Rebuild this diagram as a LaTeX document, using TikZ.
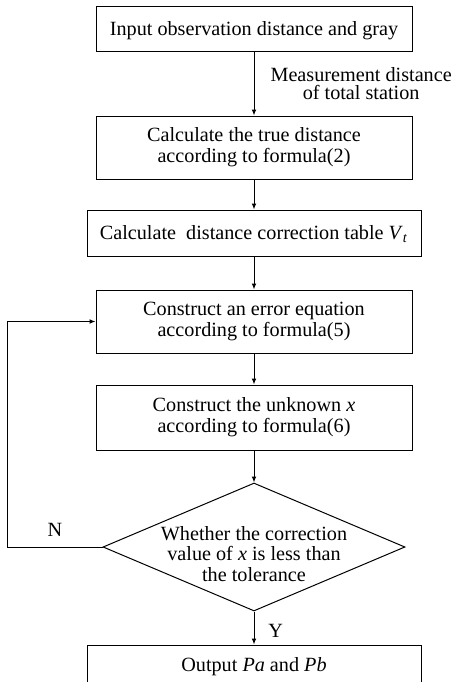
\documentclass[tikz,border=0pt]{standalone}
\usepackage{fontspec}
\setmainfont{Liberation Serif}
\usepackage{tikz}
\usetikzlibrary{positioning,arrows.meta,shapes.geometric}

\newcommand{\boxfont}{\fontsize{10.1pt}{10.6pt}\selectfont}
\newcommand{\labfont}{\fontsize{10.1pt}{9.4pt}\selectfont}
\newcommand{\decfont}{\fontsize{10.1pt}{10.4pt}\selectfont}

\begin{document}
\begin{tikzpicture}[
  node distance=16pt,
  box/.style={
    draw,
    line width=0.5pt,
    minimum width=158pt,
    inner sep=2pt,
    align=center,
    font=\boxfont
  },
  wide/.style={box, minimum width=167pt},
  one/.style={text height=6.6pt, text depth=0pt},
  decision/.style={
    diamond,
    draw,
    line width=0.5pt,
    minimum width=151pt,
    minimum height=64pt,
    inner sep=0pt
  },
  arr/.style={-{Latex[length=3pt,width=2.4pt]}, line width=0.5pt}
]

\useasboundingbox (0,0) rectangle (227pt,-341pt);

% =========================================================
% MAIN FLOW
% =========================================================

\node[box, one, minimum height=22.5pt] (input) at (127pt,-14.25pt)
{Input observation distance and gray};

\node[box, minimum height=31.5pt, below=32pt of input] (truedist)
{Calculate the true distance\\according to formula(2)};

\node[wide, one, minimum height=23pt, below=15pt of truedist] (corrtab)
{Calculate\ \ distance correction table \textit{V}\textsubscript{\textit{t}}};

\node[box, minimum height=31.5pt, below=16.5pt of corrtab] (erreq)
{Construct an error equation\\according to formula(5)};

\node[box, minimum height=32.5pt, below=15.5pt of erreq] (unknown)
{Construct the unknown \textit{x}\\according to formula(6)};

\node[decision, below=16pt of unknown] (check) {};

\node[font=\decfont, align=center, inner sep=0pt] (checktext)
at ([yshift=-3.5pt]check.center)
{Whether the correction\\value of \textit{x} is less than\\the tolerance};

\node[wide, minimum height=23pt, text height=6.6pt, text depth=2.8pt,
  below=16.5pt of check] (output)
{Output \textit{Pa} and \textit{Pb}};

\coordinate (loop) at (3.75pt,0);

% =========================================================
% FLOWS
% =========================================================

\draw[arr] (input) --
node[right, xshift=4.7pt, align=center, font=\labfont]
{Measurement distance\\of total station}
(truedist);

\draw[arr] (truedist) -- (corrtab);
\draw[arr] (corrtab) -- (erreq);
\draw[arr] (erreq) -- (unknown);
\draw[arr] (unknown) -- (check);

\draw[arr] (check) --
node[right, xshift=3.6pt, yshift=-1.3pt, font=\boxfont]{Y}
(output);

% back to the error equation
\draw[arr] (check.west) --
node[above=1.7pt, font=\boxfont]{N}
(check.west -| loop) |- (erreq.west);

\end{tikzpicture}
\end{document}
